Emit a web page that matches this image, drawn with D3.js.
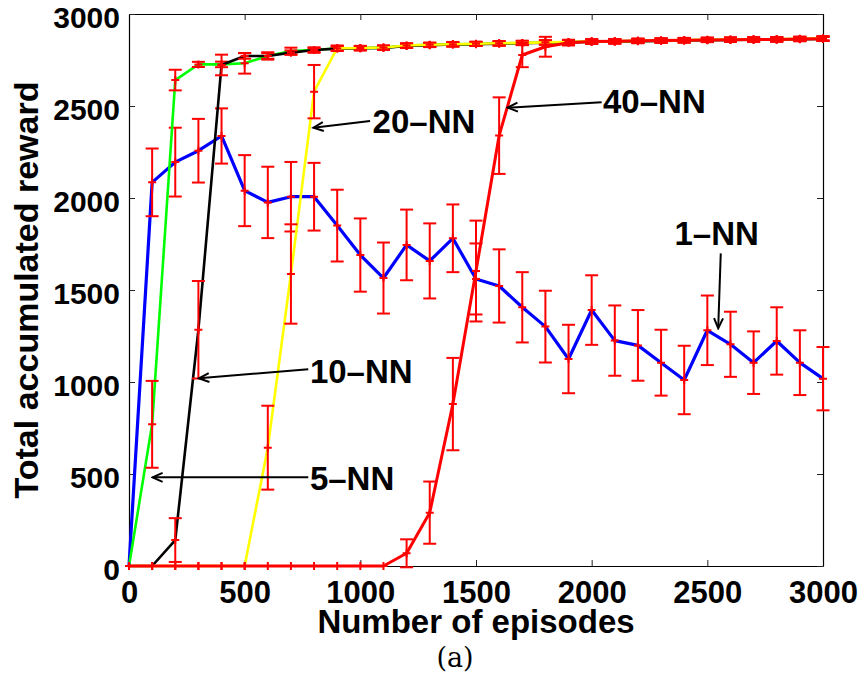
<!DOCTYPE html>
<html>
<head>
<meta charset="utf-8">
<title>Total accumulated reward</title>
<script src="https://cdn.jsdelivr.net/npm/d3@7"></script>
<style>
  body { margin: 0; background: #fff; }
  text { font-family: "Liberation Sans", Arial, sans-serif; font-weight: bold; fill: #000; }
</style>
</head>
<body>
<script>

var episodes = [0,100,200,300,400,500,600,700,800,900,1000,1100,1200,1300,1400,1500,
                1600,1700,1800,1900,2000,2100,2200,2300,2400,2500,2600,2700,2800,2900,3000];

// 1-NN
var nn1 = [0,2085,2195,2257,2337,2040,1976,2007,2007,1850,1690,1565,1745,1658,1781,1560,
           1522,1406,1301,1125,1391,1225,1199,1105,1011,1281,1205,1105,1223,1105,1018];
var nn1Err = [0,184,187,173,150,193,194,189,184,195,199,193,192,204,184,193,
              199,191,195,186,189,191,192,179,186,189,177,170,183,176,172];
// 5-NN
var nn5 = [0,770,2641,2726,2726,2732,2772,2799,2804,2814,2814,2817,2828,2832,2835,2837,
           2840,2842,2845,2847,2850,2851,2853,2855,2857,2859,2860,2861,2862,2864,2866];
var nn5Err = [0,236,56,14,15,56,20,18,15,12,12,10,12,10,12,10,
              12,10,11,10,12,10,11,10,12,10,11,10,12,10,11];
// 10-NN
var nn10 = [0,0,141,1284,2723,2772,2772,2790,2804,2812,2814,2816,2826,2830,2834,2836,
            2839,2841,2844,2846,2849,2850,2852,2854,2856,2858,2859,2860,2861,2863,2865];
var nn10Err = [0,0,119,265,56,15,15,12,10,10,10,10,10,10,10,10,
               10,10,10,10,10,10,10,10,10,10,10,10,10,10,10];
// 20-NN
var nn20 = [0,0,0,0,0,0,643,1587,2578,2814,2815,2818,2829,2833,2836,2838,
            2841,2843,2846,2848,2851,2852,2854,2856,2858,2860,2861,2862,2863,2865,2867];
var nn20Err = [0,0,0,0,0,0,228,270,145,15,12,12,12,12,12,12,
               12,12,12,12,12,12,12,12,12,12,12,12,12,12,12];
// 40-NN
var nn40 = [0,0,0,0,0,0,0,0,0,0,0,0,69,290,880,1603,
            2339,2777,2822,2844,2850,2852,2854,2856,2858,2859,2860,2861,2862,2864,2866];
var nn40Err = [0,0,0,0,0,0,0,0,0,0,0,0,76,169,251,274,
               208,66,54,15,12,12,12,12,12,12,12,12,12,12,12];

var xTicks = [0,500,1000,1500,2000,2500,3000];
var yTicks = [0,500,1000,1500,2000,2500,3000];

// annotation labels, in data units
var noteLabels = ["1\u2013NN","5\u2013NN","10\u2013NN","20\u2013NN","40\u2013NN"];
var noteText = [[2358,1745],[782,413],[782,993],[1053,2353],[2049,2460]];
var noteFrom = [[2558,1699],[775,482],[775,1069],[1042,2418],[2043,2520]];
var noteTo   = [[2547,1292],[102,482],[303,1020],[797,2382],[1637,2491]];

var series = [
  {vals: nn1,  err: nn1Err,  color: "#0000ff", w: 3.2},
  {vals: nn5,  err: nn5Err,  color: "#00ff00", w: 2.6},
  {vals: nn10, err: nn10Err, color: "#000000", w: 2.6},
  {vals: nn20, err: nn20Err, color: "#ffff00", w: 2.6},
  {vals: nn40, err: nn40Err, color: "#ff0000", w: 3}
];

var W = 865, H = 681;
var pLeft = 129, pRight = 823, pTop = 14, pBottom = 566;

var svg = d3.select("body").append("svg")
    .attr("width", W).attr("height", H);
svg.append("rect").attr("width", W).attr("height", H).attr("fill", "#fff");

var x = d3.scaleLinear().domain([0, 3000]).range([pLeft, pRight]);
var y = d3.scaleLinear().domain([0, 3000]).range([pBottom, pTop]);
var fmt = d3.format("d");

// axes box with inward ticks
svg.append("g").attr("transform", "translate(0," + pBottom + ")")
   .call(d3.axisBottom(x).tickValues(xTicks).tickFormat(fmt).tickSizeInner(-6).tickSizeOuter(0).tickPadding(15))
   .call(function(g){ g.selectAll("text").style("font-size", "31px"); });
svg.append("g").attr("transform", "translate(0," + pTop + ")")
   .call(d3.axisTop(x).tickValues(xTicks).tickSizeInner(-6).tickSizeOuter(0).tickFormat(""));
svg.append("g").attr("transform", "translate(" + pLeft + ",0)")
   .call(d3.axisLeft(y).tickValues(yTicks).tickFormat(fmt).tickSizeInner(-6).tickSizeOuter(0).tickPadding(9))
   .call(function(g){ g.selectAll("text").style("font-size", "30px").attr("dy", "0.46em"); });
svg.append("g").attr("transform", "translate(" + pRight + ",0)")
   .call(d3.axisRight(y).tickValues(yTicks).tickSizeInner(-6).tickSizeOuter(0).tickFormat(""));
svg.selectAll(".domain").attr("stroke", "#000").attr("stroke-width", 1.2);
svg.selectAll(".tick line").attr("stroke", "#222");

var line = d3.line()
    .x(function(d, i){ return x(episodes[i]); })
    .y(function(d){ return y(d); });

var cap = 6.5, mk = 4;

series.forEach(function(s){
  svg.append("path")
     .datum(s.vals)
     .attr("d", line)
     .attr("fill", "none")
     .attr("stroke", s.color)
     .attr("stroke-width", s.w)
     .attr("stroke-linejoin", "round");

  var g = svg.append("g").attr("stroke", "#ff0000").attr("stroke-width", 2).attr("fill", "none");
  var pts = s.vals.map(function(v, i){ return {x: episodes[i], v: v, e: s.err[i]}; });
  var eb = g.selectAll("g").data(pts).enter().append("g");
  eb.filter(function(d){ return d.e > 0; }).each(function(d){
    var sel = d3.select(this);
    var cx = x(d.x), y1 = y(d.v + d.e), y0 = y(d.v - d.e);
    sel.append("line").attr("x1", cx).attr("x2", cx).attr("y1", y1).attr("y2", y0);
    sel.append("line").attr("x1", cx - cap).attr("x2", cx + cap).attr("y1", y1).attr("y2", y1);
    sel.append("line").attr("x1", cx - cap).attr("x2", cx + cap).attr("y1", y0).attr("y2", y0);
  });
  // '+' markers
  eb.append("path")
    .attr("d", function(d){
      var cx = x(d.x), cy = y(d.v);
      return "M" + (cx - mk) + "," + cy + "H" + (cx + mk) + "M" + cx + "," + (cy - mk) + "V" + (cy + mk);
    });
});

// annotations
svg.append("defs").append("marker")
   .attr("id", "arr")
   .attr("markerUnits", "userSpaceOnUse")
   .attr("markerWidth", 14).attr("markerHeight", 14)
   .attr("refX", 0).attr("refY", 0)
   .attr("viewBox", "-12 -7 14 14")
   .attr("orient", "auto")
   .append("path")
   .attr("d", "M-10,-4.5L0,0L-10,4.5")
   .attr("fill", "none").attr("stroke", "#000").attr("stroke-width", 2);

noteLabels.forEach(function(lbl, i){
  svg.append("line")
     .attr("x1", x(noteFrom[i][0])).attr("y1", y(noteFrom[i][1]))
     .attr("x2", x(noteTo[i][0])).attr("y2", y(noteTo[i][1]))
     .attr("stroke", "#000").attr("stroke-width", 2)
     .attr("marker-end", "url(#arr)");
  svg.append("text")
     .attr("x", x(noteText[i][0])).attr("y", y(noteText[i][1]))
     .style("font-size", "33px")
     .text(lbl);
});

// axis titles
svg.append("text")
   .attr("x", (pLeft + pRight) / 2).attr("y", 633)
   .attr("text-anchor", "middle")
   .style("font-size", "33px")
   .text("Number of episodes");

svg.append("text")
   .attr("transform", "translate(38," + ((pTop + pBottom) / 2) + ") rotate(-90)")
   .attr("text-anchor", "middle")
   .style("font-size", "34px")
   .text("Total accumulated reward");

svg.append("text")
   .attr("x", 455).attr("y", 667)
   .attr("text-anchor", "middle")
   .style("font-family", "'DejaVu Serif', 'Liberation Serif', serif")
   .style("font-weight", "normal")
   .style("font-size", "27px")
   .text("(a)");

</script>
</body>
</html>
